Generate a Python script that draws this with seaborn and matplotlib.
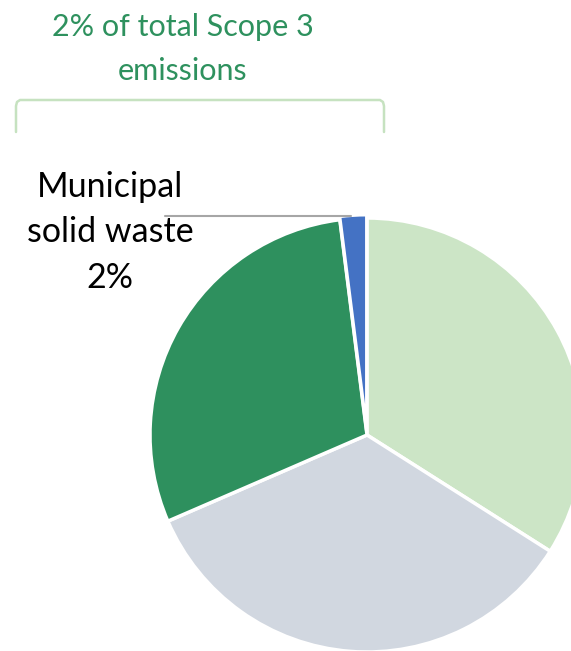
import matplotlib.pyplot as plt
import seaborn as sns
import numpy as np

# pie shares, clockwise from 12 o'clock
categories = ["Purchased goods", "Other categories", "Capital goods", "Municipal solid waste"]
shares = [34.0, 34.5, 29.5, 2.0]
colors = ["#CCE5C6", "#D1D7E0", "#2E905E", "#4472C4"]
explode = [0, 0, 0, 0.015]

title_lines = ["2% of total Scope 3", "emissions"]
label_lines = ["Municipal", "solid waste", "2%"]

sns.set_theme(style="white")
plt.rcParams['font.family'] = ['Lato', 'DejaVu Sans']

W, H = 571, 651
fig = plt.figure(figsize=(W / 100, H / 100), dpi=100)

# pie axes: centre (367, 435) px, radius 217 px
cx, cy, r = 367, 435, 217
ax = fig.add_axes([(cx - r) / W, (H - cy - r) / H, 2 * r / W, 2 * r / H])
ax.pie(shares, colors=colors, startangle=90, counterclock=False,
       explode=explode, radius=1,
       wedgeprops=dict(edgecolor="white", linewidth=2.5))
ax.set_xlim(-1, 1)
ax.set_ylim(-1, 1)
ax.set_aspect("auto")
ax.axis("off")

# overlay axes in pixel coordinates for the annotations
ov = fig.add_axes([0, 0, 1, 1], facecolor="none")
ov.set_xlim(0, W)
ov.set_ylim(H, 0)
ov.axis("off")

for i, line in enumerate(title_lines):
    ov.text(183, 36 + 44 * i, line, ha="center", va="baseline",
            fontsize=22, color="#2E915E")
for i, line in enumerate(label_lines):
    ov.text(110, 197 + 45.5 * i, line, ha="center", va="baseline",
            fontsize=24.5, color="black")

# leader line to the small slice
ov.plot([165, 351], [216, 216], color="#A6A6A6", lw=1.5)

# bracket over the small slice
bx = [16, 16, 17, 20, 380, 383, 384, 384]
by = [132, 106, 102, 100, 100, 102, 106, 132]
ov.plot(bx, by, color="#C6E2C0", lw=1.8, solid_joinstyle="round")

plt.savefig("out.png", dpi=100)
